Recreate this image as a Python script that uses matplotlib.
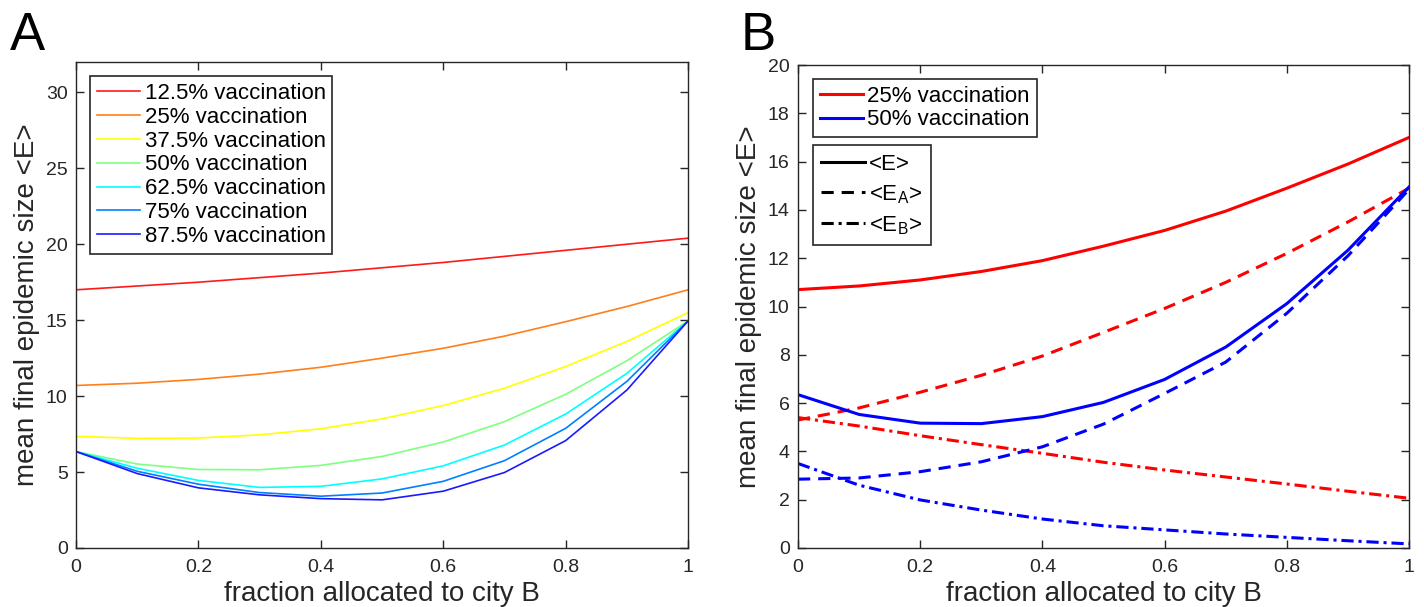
import numpy as np
import matplotlib
matplotlib.use("Agg")
import matplotlib.pyplot as plt
from matplotlib.lines import Line2D

plt.rcParams['font.family'] = ['Liberation Sans', 'DejaVu Sans']
plt.rcParams['mathtext.fontset'] = 'custom'
plt.rcParams['mathtext.rm'] = 'Liberation Sans'

# fraction of vaccines allocated to city B
frac = [0, 0.1, 0.2, 0.3, 0.4, 0.5, 0.6, 0.7, 0.8, 0.9, 1.0]

# panel A: mean final epidemic size for each vaccination level
labels_a = ["12.5% vaccination", "25% vaccination", "37.5% vaccination",
            "50% vaccination", "62.5% vaccination", "75% vaccination",
            "87.5% vaccination"]
vacc_125 = [17.0, 17.25, 17.5, 17.8, 18.1, 18.45, 18.8, 19.2, 19.6, 20.0, 20.4]
vacc_25 = [10.7, 10.85, 11.1, 11.45, 11.9, 12.5, 13.15, 13.95, 14.9, 15.9, 17.0]
vacc_375 = [7.35, 7.22, 7.24, 7.45, 7.85, 8.5, 9.38, 10.52, 11.95, 13.6, 15.5]
vacc_50 = [6.35, 5.53, 5.17, 5.15, 5.44, 6.03, 6.98, 8.32, 10.12, 12.33, 14.95]
vacc_625 = [6.35, 5.25, 4.45, 3.99, 4.06, 4.55, 5.41, 6.78, 8.82, 11.5, 14.95]
vacc_75 = [6.35, 5.05, 4.2, 3.65, 3.41, 3.62, 4.39, 5.75, 7.88, 10.97, 14.95]
vacc_875 = [6.35, 4.9, 3.96, 3.5, 3.25, 3.17, 3.74, 4.97, 7.07, 10.4, 14.95]
series_a = [vacc_125, vacc_25, vacc_375, vacc_50, vacc_625, vacc_75, vacc_875]
colors_a = ["#ff1a1a", "#ff7f1a", "#ffff00", "#80ff80", "#00ffff", "#0080ff", "#1a1aff"]

# panel B: total and per-city epidemic sizes
E_25 = vacc_25
EA_25 = [5.3, 5.8, 6.45, 7.15, 7.95, 8.93, 9.92, 11.0, 12.2, 13.5, 14.9]
EB_25 = [5.4, 5.05, 4.65, 4.28, 3.92, 3.55, 3.23, 2.94, 2.65, 2.35, 2.06]
E_50 = vacc_50
EA_50 = [2.85, 2.9, 3.16, 3.57, 4.19, 5.13, 6.4, 7.7, 9.72, 12.1, 14.85]
EB_50 = [3.5, 2.6, 1.99, 1.57, 1.2, 0.92, 0.75, 0.58, 0.44, 0.3, 0.17]

fig = plt.figure(figsize=(14.24, 6.07), dpi=100)
axA = fig.add_axes([0.0534, 0.0972, 0.4298, 0.8007])
axB = fig.add_axes([0.5604, 0.0972, 0.4291, 0.7957])

dark = "#262626"
xticks = [0, 0.2, 0.4, 0.6, 0.8, 1]
xticklabels = ["0", "0.2", "0.4", "0.6", "0.8", "1"]
dashed = (0, (4, 2.6))
dashdot = (0, (4, 1.6, 1, 1.6))


def style_axes(ax, ymax, yticks):
    ax.set_xlim(0, 1)
    ax.set_ylim(0, ymax)
    ax.set_xticks(xticks)
    ax.set_xticklabels(xticklabels)
    ax.set_yticks(yticks)
    ax.tick_params(direction="in", length=6, width=1, top=True, right=True,
                   labelsize=14, colors=dark)
    ax.tick_params(axis="x", pad=8)
    ax.tick_params(axis="y", pad=6)
    for s in ax.spines.values():
        s.set_color(dark)
        s.set_linewidth(1.0)
    ax.set_xlabel("fraction allocated to city B", fontsize=20, color=dark, labelpad=3.5)
    ax.set_ylabel("mean final epidemic size <E>", fontsize=20, color=dark, labelpad=4)


# ---------------- panel A ----------------
for vals, c, lab in zip(series_a, colors_a, labels_a):
    axA.plot(frac, vals, color=c, lw=1.2, label=lab)
style_axes(axA, 32, range(0, 31, 5))
legA = axA.legend(loc="upper left", bbox_to_anchor=(0.0229, 0.971), borderaxespad=0,
                  fontsize=16, handlelength=1.95, handletextpad=0.2, labelspacing=0.13,
                  borderpad=0.3, fancybox=False, framealpha=1, edgecolor=dark)
legA.get_frame().set_linewidth(1.2)

# ---------------- panel B ----------------
lw = 2.2
axB.plot(frac, E_25, color="red", lw=lw, ls="-")
axB.plot(frac, EA_25, color="red", lw=lw, ls=dashed)
axB.plot(frac, EB_25, color="red", lw=lw, ls=dashdot)
axB.plot(frac, E_50, color="blue", lw=lw, ls="-")
axB.plot(frac, EA_50, color="blue", lw=lw, ls=dashed)
axB.plot(frac, EB_50, color="blue", lw=lw, ls=dashdot)
style_axes(axB, 20, range(0, 21, 2))

h1 = [Line2D([], [], color="red", lw=lw), Line2D([], [], color="blue", lw=lw)]
leg1 = axB.legend(h1, ["25% vaccination", "50% vaccination"], loc="upper left",
                  bbox_to_anchor=(0.0245, 0.971), borderaxespad=0, fontsize=16,
                  handlelength=1.95, handletextpad=0.2, labelspacing=0.12,
                  borderpad=0.3, fancybox=False, framealpha=1, edgecolor=dark)
leg1.get_frame().set_linewidth(1.2)
axB.add_artist(leg1)

h2 = [Line2D([], [], color="black", lw=lw, ls="-"),
      Line2D([], [], color="black", lw=lw, ls=dashed),
      Line2D([], [], color="black", lw=lw, ls=dashdot)]
leg2 = axB.legend(h2, ["<E>", r"<E$_\mathregular{A}$>", r"<E$_\mathregular{B}$>"],
                  loc="upper left", bbox_to_anchor=(0.0245, 0.834), borderaxespad=0,
                  fontsize=16, handlelength=1.95, handletextpad=0.2, labelspacing=0.38,
                  borderpad=0.38, fancybox=False, framealpha=1, edgecolor=dark)
leg2.get_frame().set_linewidth(1.2)

fig.text(10 / 1424, 1 - 50 / 607, "A", fontsize=38, va="baseline")
fig.text(741 / 1424, 1 - 50 / 607, "B", fontsize=38, va="baseline")

fig.savefig("out.png", dpi=100)
